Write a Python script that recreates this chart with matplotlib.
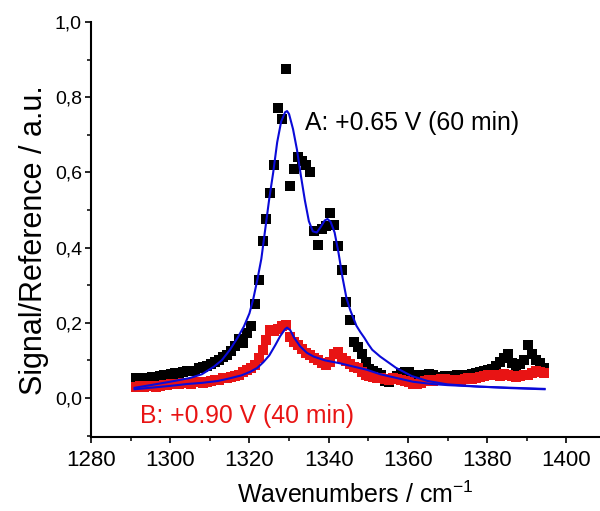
import matplotlib
matplotlib.use("Agg")
import matplotlib.pyplot as plt
from matplotlib.ticker import MultipleLocator, FuncFormatter

plt.rcParams['font.family'] = ['Liberation Sans', 'DejaVu Sans']
plt.rcParams['mathtext.default'] = 'regular'

# measured spectra (wavenumber grid, cm-1)
wavenumber = [1291.3 + k for k in range(104)]

signal_a = [
    0.052, 0.050, 0.054, 0.052, 0.055, 0.056, 0.058, 0.061, 0.060, 0.064,
    0.066, 0.064, 0.068, 0.071, 0.072, 0.071, 0.079, 0.083, 0.086, 0.090,
    0.095, 0.101, 0.108, 0.114, 0.124, 0.138, 0.156, 0.146, 0.172, 0.190,
    0.250, 0.313, 0.417, 0.477, 0.544, 0.620, 0.770, 0.741, 0.875, 0.563,
    0.610, 0.640, 0.630, 0.620, 0.600, 0.443, 0.408, 0.450, 0.457, 0.493,
    0.461, 0.405, 0.340, 0.254, 0.206, 0.150, 0.135, 0.118, 0.095, 0.078,
    0.072, 0.065, 0.060, 0.045, 0.042, 0.050, 0.058, 0.066, 0.070, 0.068,
    0.062, 0.058, 0.060, 0.062, 0.064, 0.060, 0.056, 0.055, 0.057, 0.056,
    0.058, 0.060, 0.062, 0.060, 0.062, 0.064, 0.066, 0.068, 0.072, 0.074,
    0.078, 0.085, 0.095, 0.105, 0.118, 0.094, 0.085, 0.090, 0.102, 0.142,
    0.118, 0.100, 0.092, 0.080,
]

signal_b = [
    0.030, 0.032, 0.028, 0.031, 0.033, 0.030, 0.033, 0.035, 0.034, 0.036,
    0.038, 0.036, 0.039, 0.040, 0.038, 0.041, 0.043, 0.040, 0.042, 0.045,
    0.047, 0.048, 0.052, 0.053, 0.055, 0.058, 0.062, 0.070, 0.075, 0.080,
    0.088, 0.105, 0.128, 0.155, 0.181, 0.178, 0.183, 0.190, 0.195, 0.163,
    0.150, 0.142, 0.130, 0.119, 0.115, 0.106, 0.100, 0.092, 0.088, 0.095,
    0.118, 0.123, 0.105, 0.097, 0.090, 0.082, 0.079, 0.070, 0.062, 0.057,
    0.055, 0.053, 0.052, 0.050, 0.048, 0.052, 0.050, 0.047, 0.045, 0.042,
    0.038, 0.036, 0.040, 0.045, 0.047, 0.046, 0.048, 0.050, 0.049, 0.048,
    0.047, 0.046, 0.048, 0.050, 0.052, 0.051, 0.053, 0.055, 0.058, 0.060,
    0.062, 0.060, 0.058, 0.063, 0.060, 0.057, 0.055, 0.058, 0.062, 0.060,
    0.066, 0.072, 0.070, 0.066,
]

# fitted curves
fit_a_x = [1291, 1295, 1300, 1305, 1308, 1311, 1313, 1315, 1317, 1318.6,
           1320, 1321, 1322, 1323, 1324, 1325, 1326, 1327, 1328, 1329,
           1329.5, 1330, 1331, 1332, 1333, 1334, 1335, 1336, 1337, 1338,
           1339, 1339.7, 1340.5, 1341.5, 1342.5, 1343.5, 1344.5, 1345.5, 1347, 1348,
           1349, 1350, 1351, 1353, 1357, 1361, 1365, 1370, 1378, 1386,
           1394.5]
fit_a_y = [0.027, 0.034, 0.043, 0.053, 0.063, 0.083, 0.100, 0.127, 0.160, 0.190,
           0.225, 0.265, 0.315, 0.370, 0.450, 0.530, 0.600, 0.680, 0.735, 0.760,
           0.763, 0.755, 0.715, 0.660, 0.590, 0.525, 0.470, 0.443, 0.440, 0.455,
           0.472, 0.476, 0.468, 0.440, 0.385, 0.320, 0.265, 0.232, 0.192, 0.175,
           0.160, 0.143, 0.128, 0.110, 0.080, 0.058, 0.045, 0.036, 0.030, 0.026,
           0.023]

fit_b_x = [1291, 1296, 1300, 1304.3, 1308, 1312, 1315, 1318, 1320.3, 1322,
           1323.5, 1325, 1326.5, 1327.8, 1329, 1329.5, 1330.3, 1331.3, 1332.8, 1334.5,
           1336.2, 1339, 1342.9, 1346, 1349.6, 1353, 1356.3, 1361.3, 1366, 1370,
           1378, 1386, 1394.5]
fit_b_y = [0.023, 0.028, 0.032, 0.037, 0.040, 0.045, 0.052, 0.060, 0.070, 0.080,
           0.095, 0.113, 0.140, 0.165, 0.183, 0.187, 0.180, 0.160, 0.137, 0.120,
           0.110, 0.100, 0.092, 0.084, 0.075, 0.063, 0.055, 0.043, 0.037, 0.034,
           0.030, 0.027, 0.024]

label_a = "A: +0.65 V (60 min)"
label_b = "B: +0.90 V (40 min)"

red = '#e81414'
blue = '#0a0ad8'

fig = plt.figure(figsize=(6.0, 5.11), dpi=100)
ax = fig.add_axes([0.1517, 0.1448, 0.8483, 0.8122])

ax.plot(wavenumber, signal_a, 's', color='black', markersize=7, markeredgewidth=0, zorder=2)
ax.plot(wavenumber, signal_b, 's', color=red, markersize=7.5, markeredgewidth=0, zorder=3)
ax.plot(fit_a_x, fit_a_y, '-', color=blue, linewidth=1.5, zorder=4)
ax.plot(fit_b_x, fit_b_y, '-', color=blue, linewidth=1.5, zorder=4)

ax.text(1334.0, 0.713, label_a, fontsize=17.8, color='black', va='baseline', ha='left')
ax.text(1292.4, -0.0657, label_b, fontsize=17.8, color=red, va='baseline', ha='left')

ax.set_xlim(1280, 1408.5)
ax.set_ylim(-0.104, 1.0)

for side in ('top', 'right'):
    ax.spines[side].set_visible(False)
for side in ('left', 'bottom'):
    ax.spines[side].set_linewidth(1.5)

ax.xaxis.set_major_locator(MultipleLocator(20))
ax.xaxis.set_minor_locator(MultipleLocator(10))
ax.yaxis.set_major_locator(MultipleLocator(0.2))
ax.yaxis.set_minor_locator(MultipleLocator(0.1))
ax.yaxis.set_major_formatter(FuncFormatter(lambda v, p: f"{v:.1f}".replace('.', ',')))

ax.tick_params(which='major', direction='out', length=4.5, width=1.2)
ax.tick_params(which='minor', direction='out', length=3, width=1.1)
ax.tick_params(axis='y', which='major', labelsize=14, pad=2)
ax.tick_params(axis='x', which='major', labelsize=16, pad=5)
for lbl in ax.get_xticklabels():
    lbl.set_family(['Liberation Sans Narrow', 'Liberation Sans'])

ax.set_xlabel("Wavenumbers / cm$^{-1}$", fontsize=18)
ax.xaxis.label.set_va('baseline')
ax.xaxis.set_label_coords(0.52, -0.158)
ax.set_ylabel("Signal/Reference / a.u.", fontsize=22)
ax.yaxis.label.set_va('center')
ax.yaxis.set_label_coords(-0.112, 0.475)

fig.savefig("out.png", dpi=100)
